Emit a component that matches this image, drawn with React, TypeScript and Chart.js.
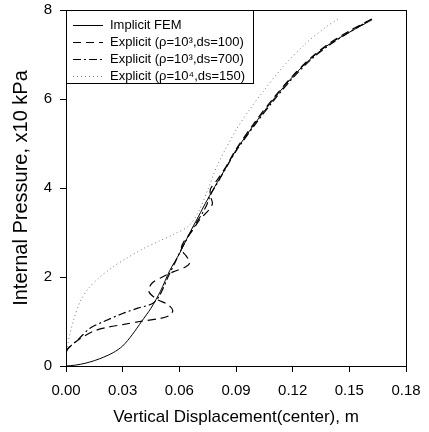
import React, { useEffect, useRef } from "react";
import { Chart, registerables } from "chart.js";

Chart.register(...registerables);

const xTicks = [0, 0.03, 0.06, 0.09, 0.12, 0.15, 0.18];
const yTicks = [0, 2, 4, 6, 8];

const seriesNames = [
  "Implicit FEM",
  "Explicit (\u03C1=10\u00B3,ds=100)",
  "Explicit (\u03C1=10\u00B3,ds=700)",
  "Explicit (\u03C1=10\u2074,ds=150)",
];

const implicitX = [0, 0.005, 0.01, 0.015, 0.02, 0.025, 0.03, 0.035, 0.04, 0.045, 0.05, 0.055, 0.06, 0.065, 0.07, 0.075, 0.08, 0.085, 0.09, 0.095, 0.1, 0.11, 0.12, 0.13, 0.14, 0.15, 0.162];
const implicitY = [0, 0.02, 0.06, 0.12, 0.2, 0.3, 0.45, 0.7, 1.0, 1.3, 1.68, 2.15, 2.52, 2.95, 3.35, 3.75, 4.12, 4.48, 4.85, 5.15, 5.45, 6.0, 6.5, 6.92, 7.25, 7.5, 7.78];

const dash100X = [0, 0.0012, 0.007, 0.0145, 0.022, 0.03, 0.039, 0.05, 0.055, 0.0565, 0.054, 0.048, 0.0438, 0.0455, 0.051, 0.057, 0.063, 0.0655, 0.0635, 0.061, 0.0625, 0.067, 0.071, 0.0755, 0.0775, 0.0765, 0.0765, 0.08, 0.085, 0.09, 0.1, 0.11, 0.12, 0.13, 0.14, 0.15, 0.162];
const dash100Y = [0.3, 0.4, 0.6, 0.78, 0.87, 0.93, 1.0, 1.07, 1.14, 1.25, 1.38, 1.5, 1.68, 1.86, 2.0, 2.12, 2.22, 2.32, 2.48, 2.62, 2.8, 3.05, 3.3, 3.5, 3.65, 3.82, 3.98, 4.18, 4.5, 4.87, 5.48, 6.03, 6.52, 6.94, 7.27, 7.53, 7.8];

const dash700X = [0, 0.002, 0.007, 0.0127, 0.02, 0.03, 0.038, 0.046, 0.05, 0.054, 0.058, 0.061, 0.064, 0.068, 0.072, 0.0745, 0.0765, 0.08, 0.085, 0.09, 0.1, 0.11, 0.12, 0.13, 0.14, 0.15, 0.162];
const dash700Y = [0.35, 0.43, 0.62, 0.85, 1.0, 1.18, 1.3, 1.41, 1.62, 2.0, 2.35, 2.62, 2.85, 3.15, 3.42, 3.62, 3.85, 4.1, 4.47, 4.83, 5.42, 5.97, 6.47, 6.9, 7.23, 7.5, 7.8];

const dotX = [0, 0.001, 0.002, 0.004, 0.0075, 0.012, 0.018, 0.025, 0.032, 0.041, 0.049, 0.058, 0.065, 0.07, 0.075, 0.08, 0.09, 0.097, 0.105, 0.115, 0.127, 0.137, 0.144];
const dotY = [0.25, 0.5, 0.7, 1.03, 1.45, 1.75, 2.0, 2.23, 2.42, 2.64, 2.8, 2.98, 3.15, 3.45, 3.95, 4.5, 5.3, 5.75, 6.2, 6.73, 7.25, 7.6, 7.8];

const pts = (xs: number[], ys: number[]) => xs.map((x, i) => ({ x, y: ys[i] }));

const styles = [
  { color: "#000", width: 1, dash: [] as number[] },
  { color: "#000", width: 1.2, dash: [8, 5] },
  { color: "#000", width: 1.2, dash: [8, 3, 2, 3] },
  { color: "#777", width: 1, dash: [1, 3] },
];

const FONT = "'Liberation Sans', Arial, sans-serif";

const framePlugin = {
  id: "frameLegend",
  afterDraw(chart: any) {
    const { ctx, chartArea: a } = chart;
    ctx.save();
    ctx.strokeStyle = "#000";
    ctx.lineWidth = 1;
    ctx.setLineDash([]);
    ctx.strokeRect(a.left + 0.5, a.top + 0.5, a.right - a.left, a.bottom - a.top);
    // legend box
    const bx = a.left, by = a.top, bw = 187, bh = 73;
    ctx.fillStyle = "#fff";
    ctx.fillRect(bx + 1, by + 1, bw - 1, bh - 1);
    ctx.strokeRect(bx + 0.5, by + 0.5, bw, bh);
    ctx.font = "13px " + FONT;
    ctx.textBaseline = "middle";
    ctx.textAlign = "left";
    seriesNames.forEach((name, i) => {
      const y = by + 15 + i * 17;
      const s = styles[i];
      ctx.strokeStyle = s.color;
      ctx.lineWidth = s.width;
      ctx.setLineDash(s.dash);
      ctx.beginPath();
      ctx.moveTo(bx + 7, y + 0.5);
      ctx.lineTo(bx + 37, y + 0.5);
      ctx.stroke();
      ctx.setLineDash([]);
      ctx.fillStyle = "#000";
      ctx.fillText(name, bx + 44, y);
    });
    ctx.restore();
  },
};

export default function App() {
  const ref = useRef<HTMLCanvasElement>(null);
  useEffect(() => {
    if (!ref.current) return;
    const series = [pts(implicitX, implicitY), pts(dash100X, dash100Y), pts(dash700X, dash700Y), pts(dotX, dotY)];
    const chart = new Chart(ref.current, {
      type: "scatter",
      data: {
        datasets: series.map((d, i) => ({
          label: seriesNames[i],
          data: d,
          showLine: true,
          pointRadius: 0,
          borderColor: styles[i].color,
          borderWidth: styles[i].width,
          borderDash: styles[i].dash,
          tension: 0.3,
          fill: false,
        })),
      },
      options: {
        animation: false,
        responsive: true,
        maintainAspectRatio: false,
        layout: { padding: { top: 10, right: 23, left: 0, bottom: 0 } },
        plugins: { legend: { display: false }, tooltip: { enabled: false } },
        scales: {
          x: {
            type: "linear",
            min: 0,
            max: 0.18,
            afterBuildTicks: (s: any) => { s.ticks = xTicks.map((v) => ({ value: v })); },
            afterFit: (s: any) => { s.height = 66; s.paddingLeft = 0; s.paddingRight = 0; },
            ticks: {
              color: "#000",
              font: { family: FONT, size: 15 },
              padding: 10,
              maxRotation: 0,
              callback: (v: any) => Number(v).toFixed(2),
            },
            grid: { drawOnChartArea: false, drawTicks: true, tickLength: 6, color: "#000" },
            border: { color: "#000" },
            title: {
              display: true,
              text: "Vertical Displacement(center), m",
              color: "#000",
              font: { family: FONT, size: 17 },
              padding: { top: 0, bottom: 4 },
            },
          },
          y: {
            type: "linear",
            min: 0,
            max: 8,
            afterBuildTicks: (s: any) => { s.ticks = yTicks.map((v) => ({ value: v })); },
            afterFit: (s: any) => { s.width = 66; s.paddingTop = 0; s.paddingBottom = 0; },
            ticks: {
              color: "#000",
              font: { family: FONT, size: 15 },
              padding: 8,
              callback: (v: any) => String(v),
            },
            grid: { drawOnChartArea: false, drawTicks: true, tickLength: 6, color: "#000" },
            border: { color: "#000" },
            title: {
              display: true,
              text: "Internal Pressure, x10 kPa",
              color: "#000",
              font: { family: FONT, size: 20 },
              padding: { top: 9, bottom: 0 },
            },
          },
        },
      },
      plugins: [framePlugin],
    });
    return () => chart.destroy();
  }, []);
  return (
    <div style={{ position: "fixed", left: 0, top: 0, width: 429, height: 432, background: "#fff" }}>
      <canvas ref={ref} />
    </div>
  );
}
